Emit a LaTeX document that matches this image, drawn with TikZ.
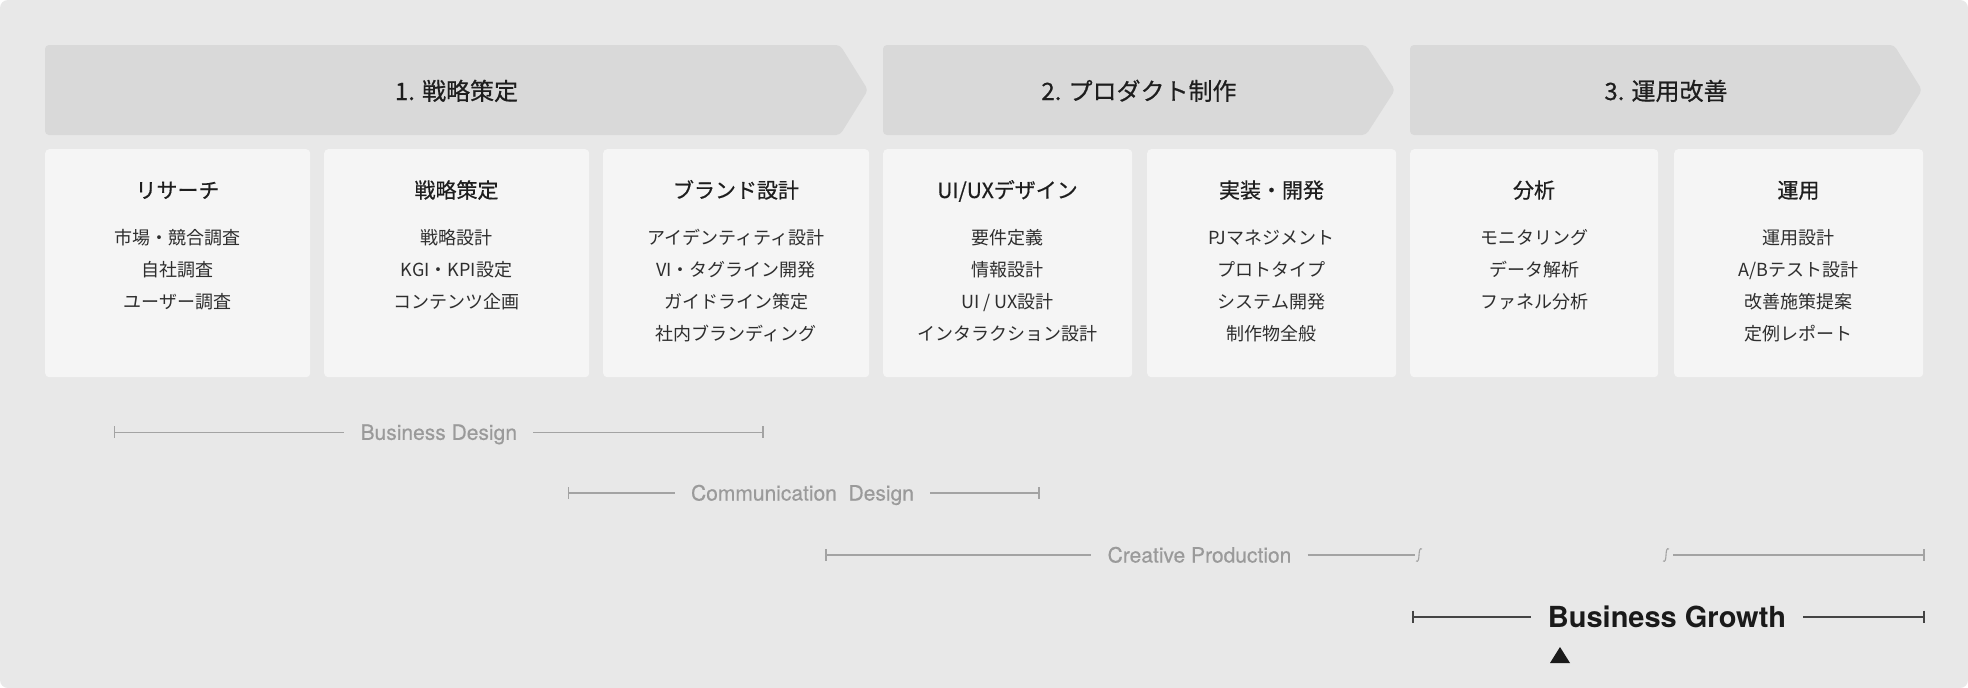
\documentclass[tikz,border=0pt]{standalone}
\usepackage{fontspec}
\setmainfont{Noto Sans CJK JP}
\newfontfamily\medfont{Noto Sans CJK JP}[FakeBold=0.6]
\newfontfamily\labfont{TeX Gyre Heros}[FakeBold=0.35]
\newfontfamily\growfont{TeX Gyre Heros}
\usetikzlibrary{calc}
\definecolor{bgc}{HTML}{E8E8E8}
\definecolor{chevc}{HTML}{D9D9D9}
\definecolor{cardc}{HTML}{F5F5F5}
\definecolor{titlec}{HTML}{1E1E1E}
\definecolor{itemc}{HTML}{2E2E2E}
\definecolor{grayt}{HTML}{9A9A9A}
\definecolor{grayl}{HTML}{A3A3A3}
\definecolor{darkc}{HTML}{1A1A1A}
\definecolor{darkl}{HTML}{444444}
\tikzset{
  chev/.style={fill=chevc, rounded corners=4pt},
  chevtitle/.style={font=\medfont\fontsize{24}{28}\selectfont, text=titlec, anchor=base, inner sep=0pt},
  card/.style={fill=cardc, rounded corners=4pt, anchor=north west, inner sep=0pt, minimum height=228pt},
  cardtitle/.style={font=\medfont\fontsize{21}{24}\selectfont, text=titlec, anchor=base, inner sep=0pt},
  item/.style={font=\fontsize{18}{20}\selectfont, text=itemc, anchor=base, inner sep=0pt},
  spanlab/.style={font=\labfont\fontsize{21}{24}\selectfont, text=grayt, inner xsep=16pt, inner ysep=0pt, text height=15pt, text depth=0pt},
  spanline/.style={draw=grayl, line width=1.3pt},
  growlab/.style={font=\growfont\bfseries\fontsize{29}{32}\selectfont, text=darkc, inner xsep=17pt, inner ysep=0pt, text height=21pt, text depth=0pt},
  growline/.style={draw=darkl, line width=2pt},
  squig/.style={draw=grayl, line width=1.1pt},
}
\newcommand\mkcard[5]{%
  \node[card, minimum width=#3] (#1) at (#2,149) {};
  \node[cardtitle] (#1t) at ({#2+#3/2},198) {#4};
  \foreach \t [count=\i] in {#5} {\node[item] (#1i\i) at ({#2+#3/2},{244.8+32*(\i-1)}) {\t};}
}
\begin{document}
\begin{tikzpicture}[x=1pt,y=-1pt]
\useasboundingbox (0,0) rectangle (1968,688);
\fill[white] (0,0) rectangle (1968,688);
\fill[bgc, rounded corners=8pt] (0,0) rectangle (1968,688);
% chevrons
\path[chev] (45,45) -- (840,45) -- (868,90) -- (840,135) -- (45,135) -- cycle;
\path[chev] (883,45) -- (1366,45) -- (1395,90) -- (1366,135) -- (883,135) -- cycle;
\path[chev] (1410,45) -- (1894,45) -- (1922,90) -- (1894,135) -- (1410,135) -- cycle;
\node[chevtitle] (h1) at (456.5,100) {1. 戦略策定};
\node[chevtitle] (h2) at (1139,100) {2. プロダクト制作};
\node[chevtitle] (h3) at (1666,100) {3. 運用改善};
% cards
\mkcard{c1}{45}{265}{リサーチ}{市場・競合調査,自社調査,ユーザー調査}
\mkcard{c2}{324}{265}{戦略策定}{戦略設計,KGI・KPI設定,コンテンツ企画}
\mkcard{c3}{603}{266}{ブランド設計}{アイデンティティ設計,VI・タグライン開発,ガイドライン策定,社内ブランディング}
\mkcard{c4}{883}{249}{UI/UXデザイン}{要件定義,情報設計,UI / UX設計,インタラクション設計}
\mkcard{c5}{1147}{249}{実装・開発}{PJマネジメント,プロトタイプ,システム開発,制作物全般}
\mkcard{c6}{1410}{248}{分析}{モニタリング,データ解析,ファネル分析}
\mkcard{c7}{1674}{249}{運用}{運用設計,A/Bテスト設計,改善施策提案,定例レポート}
% Business Design
\coordinate (bdL) at (114.5,432.3);
\coordinate (bdR) at (763,432.3);
\node[spanlab] (bd) at (438.8,432.3) {Business Design};
\draw[spanline] (bdL) -- (bd);
\draw[spanline] (bd) -- (bdR);
\draw[spanline] ($(bdL)+(0,-6)$) -- ($(bdL)+(0,6)$);
\draw[spanline] ($(bdR)+(0,-6)$) -- ($(bdR)+(0,6)$);
% Communication Design
\coordinate (cdL) at (568.5,493);
\coordinate (cdR) at (1039,493);
\node[spanlab] (cd) at (802.5,493) {Communication\ \ Design};
\draw[spanline] (cdL) -- (cd);
\draw[spanline] (cd) -- (cdR);
\draw[spanline] ($(cdL)+(0,-6)$) -- ($(cdL)+(0,6)$);
\draw[spanline] ($(cdR)+(0,-6)$) -- ($(cdR)+(0,6)$);
% Creative Production
\coordinate (cpL) at (826,555);
\coordinate (cpA) at (1415,555);
\coordinate (cpB) at (1673,555);
\coordinate (cpR) at (1924,555);
\node[spanlab] (cp) at (1199.5,555) {Creative Production};
\draw[spanline] (cpL) -- (cp);
\draw[spanline] (cp) -- (cpA);
\draw[spanline] (cpB) -- (cpR);
\draw[spanline] ($(cpL)+(0,-6)$) -- ($(cpL)+(0,6)$);
\draw[spanline] ($(cpR)+(0,-6)$) -- ($(cpR)+(0,6)$);
\draw[squig] (1416,561) .. controls (1421,564) and (1417,546) .. (1422,549);
\draw[squig] (1663,561) .. controls (1668,564) and (1664,546) .. (1669,549);
% Business Growth
\coordinate (bgL) at (1413,616.7);
\coordinate (bgR) at (1924,616.7);
\node[growlab] (bg) at (1667,616.7) {Business Growth};
\draw[growline] (bgL) -- (bg);
\draw[growline] (bg) -- (bgR);
\draw[growline] ($(bgL)+(0,-6)$) -- ($(bgL)+(0,6)$);
\draw[growline] ($(bgR)+(0,-6)$) -- ($(bgR)+(0,6)$);
\fill[darkc] (1560,647) -- (1570,663) -- (1550,663) -- cycle;
\end{tikzpicture}
\end{document}
